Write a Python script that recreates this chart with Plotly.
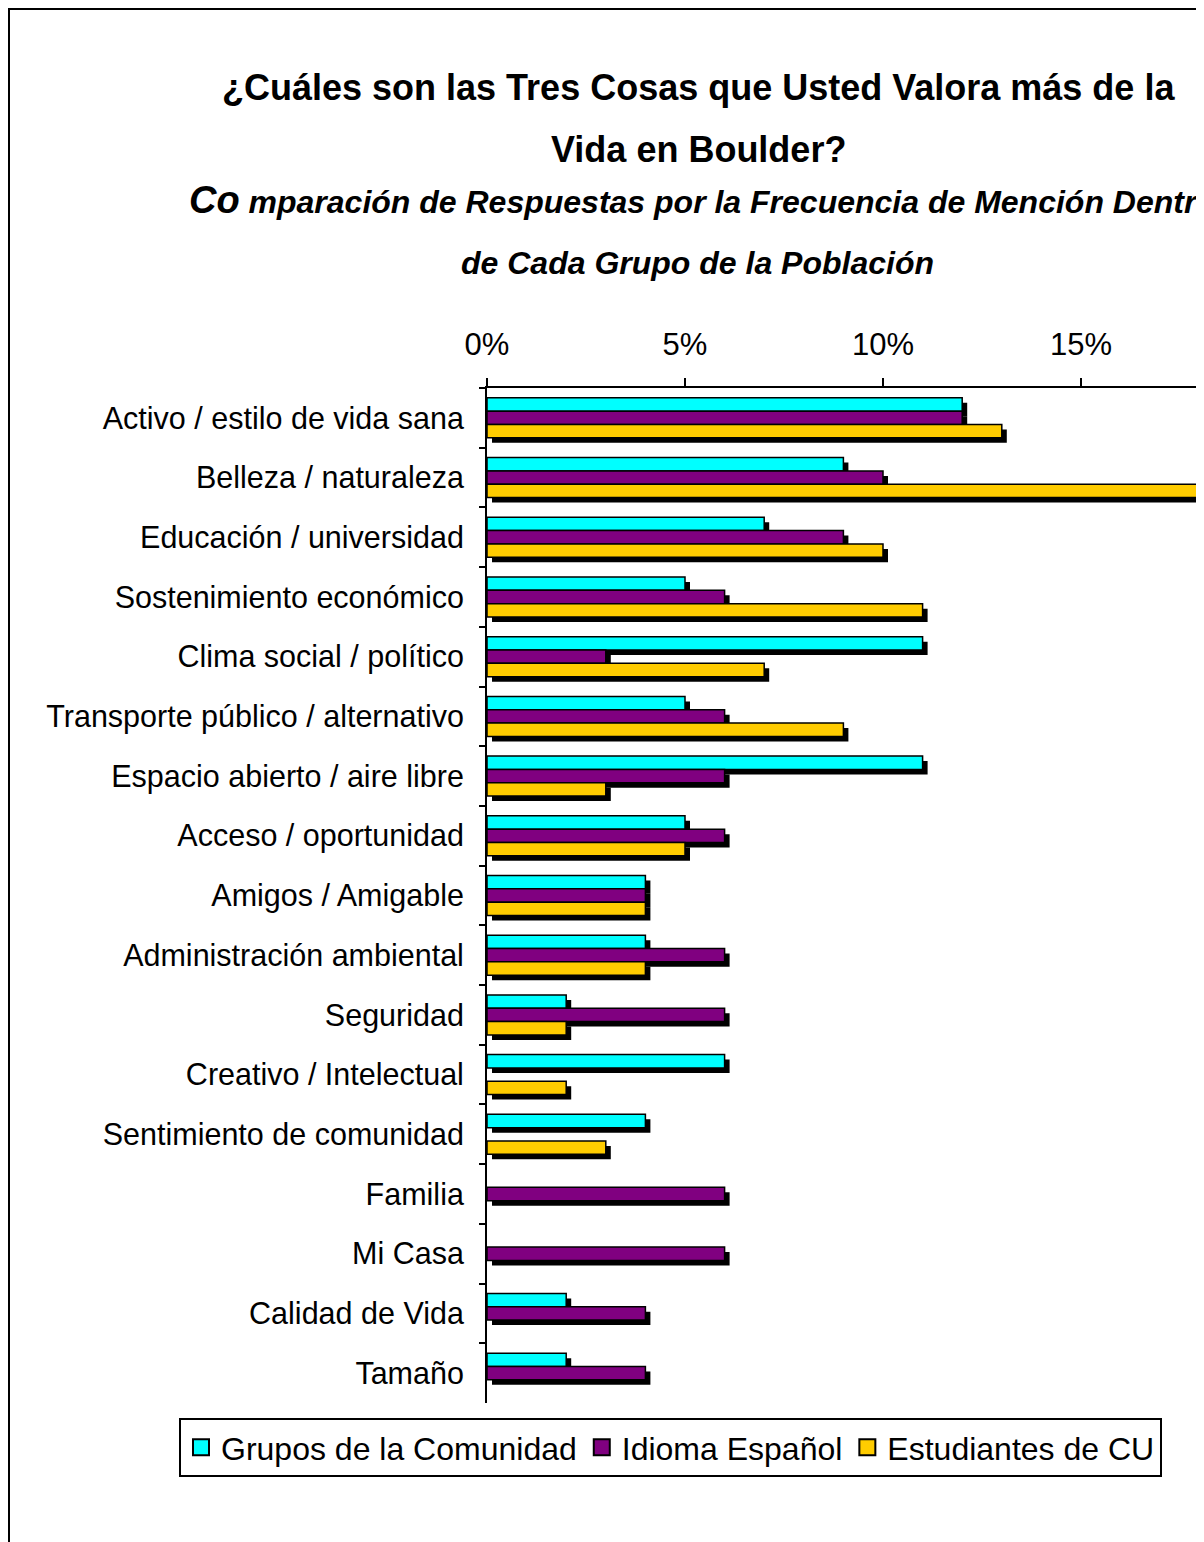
import plotly.graph_objects as go

categories = [
    "Activo / estilo de vida sana",
    "Belleza / naturaleza",
    "Educación / universidad",
    "Sostenimiento económico",
    "Clima social / político",
    "Transporte público / alternativo",
    "Espacio abierto / aire libre",
    "Acceso / oportunidad",
    "Amigos / Amigable",
    "Administración ambiental",
    "Seguridad",
    "Creativo / Intelectual",
    "Sentimiento de comunidad",
    "Familia",
    "Mi Casa",
    "Calidad de Vida",
    "Tamaño",
]
grupos = [12, 9, 7, 5, 11, 5, 11, 5, 4, 4, 2, 6, 4, None, None, 2, 2]
espanol = [12, 10, 9, 6, 3, 6, 6, 6, 4, 6, 6, None, None, 6, 6, 4, 4]
estudiantes = [13, 18, 10, 11, 7, 9, 3, 5, 4, 4, 2, 2, 3, None, None, None, None]

series = [
    ("Grupos de la Comunidad", grupos, "#00FFFF"),
    ("Idioma Español", espanol, "#800080"),
    ("Estudiantes de CU", estudiantes, "#FFCC00"),
]

# the page body has an 8px margin, so the figure is drawn 8px in from the corner
PAGE = 8
W, H = 1204 - PAGE, 1542 - PAGE
L, T, B = 487 - PAGE, 388 - PAGE, 1542 - 1403
plot_w = W - L
plot_h = H - T - B
px_per_pct = 39.6
xmax = plot_w / px_per_pct

bw = 0.2233
offsets = [-1.5 * bw, -0.5 * bw, 0.5 * bw]
shadow_dy = 5 / (plot_h / len(categories))
shadow_dx = 5 / px_per_pct

fig = go.Figure()

# shadows first
for (name, vals, color), off in zip(series, offsets):
    fig.add_trace(go.Bar(
        y=categories, x=vals, base=shadow_dx, orientation="h",
        offset=off + shadow_dy, width=bw,
        marker=dict(color="black", line=dict(width=0)),
        showlegend=False, hoverinfo="skip",
    ))

for (name, vals, color), off in zip(series, offsets):
    fig.add_trace(go.Bar(
        y=categories, x=vals, orientation="h", name=name,
        offset=off, width=bw, showlegend=False,
        marker=dict(color=color, line=dict(color="black", width=1.5)),
    ))

# legend entries with bigger square swatches
for name, vals, color in series:
    fig.add_trace(go.Scatter(
        x=[None], y=[None], mode="markers", name=name,
        marker=dict(symbol="square", size=16, color=color,
                    line=dict(color="black", width=2)),
    ))

font = "Liberation Sans, Arial, sans-serif"


def px2x(p):
    # page pixel -> paper x
    return (p - PAGE - L) / plot_w


def py2y(p):
    # page pixel -> paper y
    return (H - B - (p - PAGE)) / plot_h


fig.update_layout(
    width=W, height=H,
    margin=dict(l=L, r=0, t=T, b=B, pad=0),
    barmode="overlay",
    plot_bgcolor="white", paper_bgcolor="white",
    font=dict(family=font, size=30.5, color="black"),
    xaxis=dict(
        side="top", range=[0, xmax], tickvals=[0, 5, 10, 15],
        ticktext=["0%", "5%", "10%", "15%"],
        showgrid=False, zeroline=False, showline=True, linecolor="black",
        linewidth=2, ticks="outside", ticklen=8, tickwidth=2,
        tickcolor="black", ticklabelstandoff=11,
        tickfont=dict(size=31),
    ),
    yaxis=dict(
        autorange="reversed", showgrid=False, zeroline=False, showline=True,
        linecolor="black", linewidth=2, ticks="outside", ticklen=6,
        tickwidth=2, tickcolor="black", tickson="boundaries",
        ticklabelstandoff=15, tickfont=dict(size=30.5),
    ),
    legend=dict(
        orientation="h", x=px2x(179), y=py2y(1418), xanchor="left",
        yanchor="top", bordercolor="black", borderwidth=2,
        font=dict(size=32), traceorder="normal", bgcolor="white",
        itemsizing="trace",
    ),
    showlegend=True,
)

fig.add_annotation(text="<b>¿Cuáles son las Tres Cosas que Usted Valora más de la</b>",
                   x=px2x(698), y=py2y(88), xref="paper", yref="paper",
                   xanchor="center", yanchor="middle",
                   showarrow=False, font=dict(size=36))
fig.add_annotation(text="<b>Vida en Boulder?</b>",
                   x=px2x(698), y=py2y(150), xref="paper", yref="paper",
                   xanchor="center", yanchor="middle",
                   showarrow=False, font=dict(size=36))
fig.add_annotation(
    text="<b><i><span style='font-size:38px'>Co</span> mparación de Respuestas por la Frecuencia de Mención Dentro</i></b>",
    x=px2x(187), y=py2y(200), xref="paper", yref="paper", xanchor="left",
    yanchor="middle", showarrow=False, font=dict(size=32))
fig.add_annotation(text="<b><i>de Cada Grupo de la Población</i></b>",
                   x=px2x(697), y=py2y(263), xref="paper", yref="paper",
                   xanchor="center", yanchor="middle",
                   showarrow=False, font=dict(size=32))

# outer chart border
fig.add_shape(type="rect", xref="paper", yref="paper",
              x0=px2x(9), y0=py2y(1600), x1=px2x(1260), y1=py2y(9),
              line=dict(color="black", width=2), layer="below")

fig.write_html("out.html")
